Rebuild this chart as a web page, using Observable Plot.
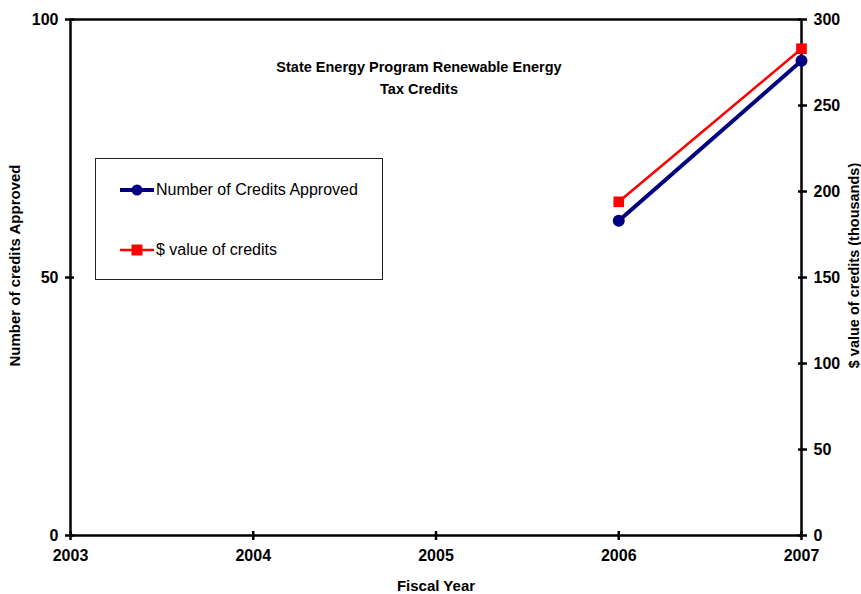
<!DOCTYPE html>
<html>
<head>
<meta charset="utf-8">
<script src="https://cdn.jsdelivr.net/npm/d3@7"></script>
<script src="https://cdn.jsdelivr.net/npm/@observablehq/plot@0.6"></script>
<style>
  html, body { margin: 0; padding: 0; background: #fff; }
  #wrap { position: relative; width: 861px; height: 594px; font-family: "Liberation Sans", Arial, sans-serif; }
  #wrap > svg { position: absolute; left: 0; top: 0; }
  .title { position: absolute; left: 219px; top: 56px; width: 400px; text-align: center;
           font-weight: bold; font-size: 14.5px; line-height: 22px; color: #000; }
  .legend { position: absolute; left: 95px; top: 158px; width: 286px; height: 120px;
            border: 1px solid #222; background: #fff; }
  .legend .row { position: absolute; left: 24px; display: flex; align-items: center;
                 font-size: 16px; color: #000; white-space: nowrap; }
  .legend .row svg { display: block; margin-right: 2px; }
</style>
</head>
<body>
<div id="wrap"></div>
<script>
// Fiscal years on the x axis
const years = [2003, 2004, 2005, 2006, 2007];
// Number of renewable-energy tax credits approved (left axis)
const creditsApproved = [null, null, null, 61, 92];
// Dollar value of the credits, thousands (right axis)
const creditValue = [null, null, null, 194, 283];

const leftTicks = [0, 50, 100];
const rightTicks = [0, 50, 100, 150, 200, 250, 300];
const rightMax = 300, leftMax = 100;
const toLeft = v => v * leftMax / rightMax;

const navy = "#000080", red = "#ff0000";

const countRows = years.map((year, i) => ({year, value: creditsApproved[i]})).filter(d => d.value != null);
const valueRows = years.map((year, i) => ({year, value: creditValue[i]})).filter(d => d.value != null);

const textStyle = {fontWeight: "bold", fontSize: 16, fill: "#000"};
const titleStyle = {fontWeight: "bold", fontSize: 15, fill: "#000", textAnchor: "middle"};

const chart = Plot.plot({
  width: 861,
  height: 594,
  marginLeft: 70,
  marginRight: 60,
  marginTop: 19,
  marginBottom: 59,
  style: {fontFamily: "'Liberation Sans', Arial, sans-serif", background: "transparent", overflow: "visible"},
  x: {domain: [2003, 2007]},
  y: {domain: [0, leftMax]},
  marks: [
    // chart frame
    Plot.ruleY([leftMax], {stroke: "#000", strokeWidth: 2.5}),
    Plot.ruleY([0], {stroke: "#000", strokeWidth: 2.5}),
    Plot.ruleX([2003, 2007], {stroke: "#000", strokeWidth: 2.5}),

    // bottom axis
    Plot.axisX({ticks: years, tickFormat: d => String(d), tickSize: 5, tickPadding: 9, strokeWidth: 2.5, label: null, ...textStyle}),
    Plot.axisX({ticks: years, tickFormat: () => "", tickSize: -4, strokeWidth: 2.5, label: null}),

    // left axis
    Plot.axisY({ticks: leftTicks, tickSize: 5, tickPadding: 7, strokeWidth: 2.5, label: null, ...textStyle}),
    Plot.axisY({ticks: leftTicks, tickFormat: () => "", tickSize: -4, strokeWidth: 2.5, label: null}),

    // right axis, in thousands of dollars
    Plot.axisY(rightTicks.map(toLeft), {anchor: "right", tickFormat: d => String(Math.round(d * rightMax / leftMax)),
      tickSize: 5, tickPadding: 7, strokeWidth: 2.5, label: null, ...textStyle}),
    Plot.axisY(rightTicks.map(toLeft), {anchor: "right", tickFormat: () => "", tickSize: -4, strokeWidth: 2.5, label: null}),

    // axis titles
    Plot.text(["Fiscal Year"], {frameAnchor: "bottom", dy: 55, ...titleStyle}),
    Plot.text(["Number of credits Approved"], {frameAnchor: "left", dx: -55, dy: -12, rotate: -90, ...titleStyle}),
    Plot.text(["$ value of credits (thousands)"], {frameAnchor: "right", dx: 53, dy: -12, rotate: -90, ...titleStyle, fontSize: 14.5}),

    // series
    Plot.line(valueRows, {x: "year", y: d => toLeft(d.value), stroke: red, strokeWidth: 2.5}),
    Plot.dot(valueRows, {x: "year", y: d => toLeft(d.value), symbol: "square", r: 6, fill: red, stroke: "none"}),
    Plot.line(countRows, {x: "year", y: "value", stroke: navy, strokeWidth: 4}),
    Plot.dot(countRows, {x: "year", y: "value", symbol: "circle", r: 6, fill: navy, stroke: "none"})
  ]
});

const wrap = document.getElementById("wrap");
wrap.appendChild(chart);

const title = document.createElement("div");
title.className = "title";
title.innerHTML = "State Energy Program Renewable Energy<br>Tax Credits";
wrap.appendChild(title);

// legend box with line-and-marker swatches
const legend = document.createElement("div");
legend.className = "legend";
const entries = [
  {label: "Number of Credits Approved", color: navy, marker: "circle", width: 4, top: 21},
  {label: "$ value of credits", color: red, marker: "square", width: 2.5, top: 81}
];
for (const e of entries) {
  const row = document.createElement("div");
  row.className = "row";
  row.style.top = e.top + "px";
  const mk = e.marker === "circle"
    ? `<circle cx="17" cy="10" r="5.5" fill="${e.color}"/>`
    : `<rect x="11.5" y="4.5" width="11" height="11" fill="${e.color}"/>`;
  row.innerHTML = `<svg width="34" height="20"><line x1="0" x2="34" y1="10" y2="10" stroke="${e.color}" stroke-width="${e.width}"/>${mk}</svg><span>${e.label}</span>`;
  legend.appendChild(row);
}
wrap.appendChild(legend);
</script>
</body>
</html>
